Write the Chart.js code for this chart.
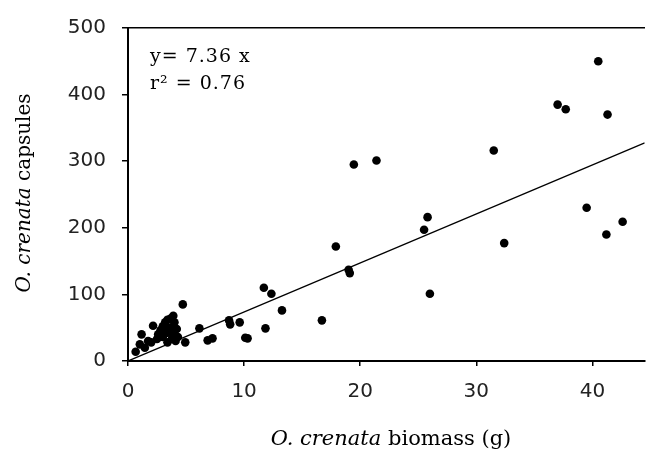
<!DOCTYPE html>
<html>
<head>
<meta charset="utf-8">
<script src="https://cdn.jsdelivr.net/npm/chart.js@4"></script>
<style>
    html, body { margin: 0; padding: 0; background: #fff; }
    #wrap { width: 649px; height: 450px; }
</style>
</head>
<body>
<div id="wrap"><canvas id="chart"></canvas></div>
<script>
// O. crenata biomass (g) vs capsules
const biomass = [
    0.66, 1.02, 1.17, 1.45, 1.73, 2.16, 2.0, 2.5, 2.6, 2.8,
    3.0, 3.0, 3.2, 3.3, 3.4, 3.4, 3.5, 3.6, 3.7, 3.8,
    3.9, 3.9, 4.0, 4.0, 4.1, 4.2, 4.3, 4.72, 4.93, 6.15,
    6.86, 7.28, 8.7, 8.8, 9.62, 10.1, 10.3, 11.7, 11.84, 12.35,
    13.26, 16.7, 17.9, 19.0, 19.1, 19.45, 21.4, 25.5, 25.8, 26.0,
    31.5, 32.4, 37.0, 37.7, 39.5, 40.5, 41.2, 41.3, 42.6
];
const capsules = [
    14, 25, 40, 20, 30, 53, 28, 33, 40, 46,
    52, 36, 58, 42, 28, 62, 50, 44, 64, 35,
    68, 52, 40, 58, 30, 48, 36, 85, 28, 49,
    31, 34, 61, 55, 58, 35, 34, 110, 49, 101,
    76, 61, 172, 137, 132, 295, 301, 197, 216, 101,
    316, 177, 385, 378, 230, 450, 190, 370, 209
];

// regression line y = 7.36 x, drawn across the visible x range
const fitX = [0, 44.5];
const fitY = [0, 327.5];

const xTicks = [0, 10, 20, 30, 40];
const yTicks = [0, 100, 200, 300, 400, 500];

const points = biomass.map((b, i) => ({ x: b, y: capsules[i] }));
const fitLine = fitX.map((x, i) => ({ x: x, y: fitY[i] }));

// equation text and the two mixed-style axis titles
const textPlugin = {
    id: 'textPlugin',
    afterDraw(chart) {
        const ctx = chart.ctx;
        const area = chart.chartArea;
        ctx.save();
        ctx.fillStyle = '#000';

        // equation
        ctx.font = '19px "DejaVu Serif"';
        ctx.letterSpacing = '1px';
        ctx.textAlign = 'left';
        ctx.textBaseline = 'alphabetic';
        ctx.fillText('y= 7.36 x', area.left + 22, 62);
        ctx.fillText('r² = 0.76', area.left + 22, 89);
        ctx.letterSpacing = '0px';

        // x title
        drawMixed(ctx, 'O. crenata', ' biomass (g)', 391, 440, 21);

        // y title
        ctx.translate(25, 193);
        ctx.rotate(-Math.PI / 2);
        drawMixed(ctx, 'O. crenata', ' capsules', 0, 0, 20);

        ctx.restore();
    }
};

function drawMixed(ctx, italicPart, normalPart, cx, cy, size) {
    const italicFont = 'italic ' + size + 'px "DejaVu Serif"';
    const normalFont = size + 'px "DejaVu Serif"';
    ctx.textBaseline = 'middle';
    ctx.textAlign = 'left';
    ctx.font = italicFont;
    const w1 = ctx.measureText(italicPart).width;
    ctx.font = normalFont;
    const w2 = ctx.measureText(normalPart).width;
    let x = cx - (w1 + w2) / 2;
    ctx.font = italicFont;
    ctx.fillText(italicPart, x, cy);
    ctx.font = normalFont;
    ctx.fillText(normalPart, x + w1, cy);
}

const tickFont = { family: '"DejaVu Sans"', size: 20 };

new Chart(document.getElementById('chart'), {
    type: 'scatter',
    data: {
        datasets: [{
            label: 'capsules',
            data: points,
            backgroundColor: '#000',
            borderColor: '#000',
            pointRadius: 4.3,
            pointHoverRadius: 4.3,
            borderWidth: 0
        }, {
            type: 'line',
            label: 'fit',
            data: fitLine,
            borderColor: '#000',
            borderWidth: 1.3,
            pointRadius: 0,
            fill: false
        }]
    },
    options: {
        responsive: true,
        maintainAspectRatio: false,
        animation: false,
        devicePixelRatio: 1,
        layout: {
            padding: { left: 52, right: 0, top: 24, bottom: 49 }
        },
        plugins: {
            legend: { display: false },
            tooltip: { enabled: false }
        },
        scales: {
            x: {
                type: 'linear',
                position: 'bottom',
                min: 0,
                max: 44.5,
                afterBuildTicks: (scale) => {
                    scale.ticks = xTicks.map(v => ({ value: v }));
                },
                afterFit: (scale) => { scale.height = 40; },
                ticks: {
                    font: tickFont,
                    color: '#222',
                    padding: 14,
                    maxRotation: 0
                },
                grid: {
                    drawOnChartArea: false,
                    drawTicks: true,
                    tickLength: 5,
                    color: '#000',
                    lineWidth: 1.5
                },
                border: { display: true, color: '#000', width: 2 }
            },
            x2: {
                type: 'linear',
                position: 'top',
                min: 0,
                max: 1,
                afterFit: (scale) => { scale.height = 0; },
                ticks: { display: false },
                grid: { display: false },
                border: { display: true, color: '#000', width: 1.5 }
            },
            y: {
                type: 'linear',
                min: 0,
                max: 500,
                afterBuildTicks: (scale) => {
                    scale.ticks = yTicks.map(v => ({ value: v }));
                },
                afterFit: (scale) => { scale.width = 76; },
                ticks: {
                    font: tickFont,
                    color: '#222',
                    padding: 16
                },
                grid: {
                    drawOnChartArea: false,
                    drawTicks: true,
                    tickLength: 6,
                    color: '#000',
                    lineWidth: 1.5
                },
                border: { display: true, color: '#000', width: 2 }
            }
        }
    },
    plugins: [textPlugin]
});
</script>
</body>
</html>
